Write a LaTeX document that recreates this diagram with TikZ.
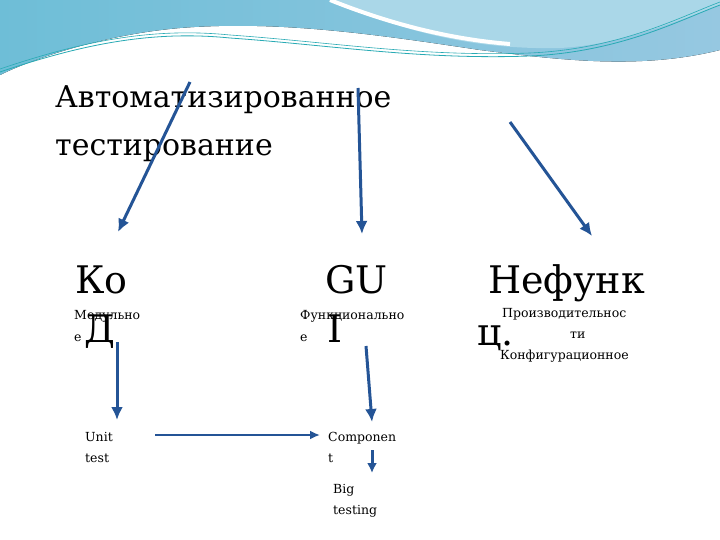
\documentclass[tikz,border=0pt]{standalone}
\usepackage{fontspec}
\setmainfont{DejaVu Serif}
\usetikzlibrary{arrows.meta}
\definecolor{arrblue}{RGB}{36,84,150}
\definecolor{bandA}{RGB}{110,190,215}
\definecolor{bandB}{RGB}{150,200,225}
\definecolor{bandC}{RGB}{170,215,232}
\definecolor{teal}{RGB}{40,170,180}
\begin{document}
\begin{tikzpicture}[x=1pt,y=-1pt,
  arr/.style={draw=arrblue,line width=3pt,-{Latex[length=13pt,width=12pt]}},
  big/.style={font=\fontsize{38}{38}\selectfont,anchor=base west,inner sep=0},
  small/.style={font=\fontsize{12.5}{12.5}\selectfont,anchor=base west,inner sep=0},
  title/.style={font=\fontsize{30}{30}\selectfont,anchor=base west,inner sep=0}]
\useasboundingbox (0,0) rectangle (720,540);
\fill[white] (0,0) rectangle (720,540);
% top band
\fill[left color=bandA,right color=bandB]
  (0,0) -- (720,0) -- (720,50) .. controls (640,70) and (560,60) .. (480,50)
  .. controls (380,35) and (280,20) .. (180,28) .. controls (100,35) and (30,60) .. (0,75) -- cycle;
\fill[bandC] (330,0) .. controls (400,30) and (470,50) .. (560,48)
  .. controls (620,45) and (680,20) .. (720,5) -- (720,0) -- cycle;
\draw[white,line width=4pt] (330,0) .. controls (400,28) and (460,40) .. (510,44);
\draw[teal,line width=0.8pt] (0,72) .. controls (80,45) and (150,30) .. (230,38)
  .. controls (330,45) and (420,60) .. (530,56) .. controls (620,52) and (680,20) .. (720,5);
\draw[teal,line width=0.6pt] (0,69) .. controls (80,42) and (150,27) .. (230,35)
  .. controls (330,42) and (420,57) .. (530,53) .. controls (620,49) and (680,17) .. (720,2);
% title
\node[title] (t1) at (55,108) {Автоматизированное};
\node[title] (t2) at (55,156) {тестирование};
% big texts
\node[big] (ko) at (75,293) {Ко};
\node[big] (d) at (84,342) {Д};
\node[big] (gu) at (325,293) {GU};
\node[big] (i) at (327,342) {I};
\node[big] (nef) at (488,293) {Нефунк};
\node[big] (ts) at (477,345) {ц.};
% small texts
\node[small] (m1) at (74,319) {Модульно};
\node[small] (m2) at (74,341) {е};
\node[small] (f1) at (300,319) {Функционально};
\node[small] (f2) at (300,341) {е};
\node[small] (p1) at (502,317) {Производительнос};
\node[small] (p2) at (570,338) {ти};
\node[small] (p3) at (500,359) {Конфигурационное};
\node[small] (u1) at (85,441) {Unit};
\node[small] (u2) at (85,462) {test};
\node[small] (c1) at (328,441) {Componen};
\node[small] (c2) at (328,462) {t};
\node[small] (b1) at (333,493) {Big};
\node[small] (b2) at (333,514) {testing};
% connectors
\coordinate (a1s) at (190,82); \coordinate (a1e) at (118,232);
\coordinate (a2s) at (358,88); \coordinate (a2e) at (362,234);
\coordinate (a3s) at (510,122); \coordinate (a3e) at (592,236);
\coordinate (a4s) at (117,342); \coordinate (a4e) at (117,420);
\coordinate (a5s) at (366,346); \coordinate (a5e) at (372,422);
\coordinate (a6s) at (155,435); \coordinate (a6e) at (320,435);
\coordinate (a7s) at (372,450); \coordinate (a7e) at (372,473);
\draw[arr] (a1s) -- (a1e);
\draw[arr] (a2s) -- (a2e);
\draw[arr] (a3s) -- (a3e);
\draw[arr] (a4s) -- (a4e);
\draw[arr] (a5s) -- (a5e);
\draw[arr,line width=2pt,-{Latex[length=10pt,width=9pt]}] (a6s) -- (a6e);
\draw[arr,-{Latex[length=10pt,width=10pt]}] (a7s) -- (a7e);
\end{tikzpicture}
\end{document}
